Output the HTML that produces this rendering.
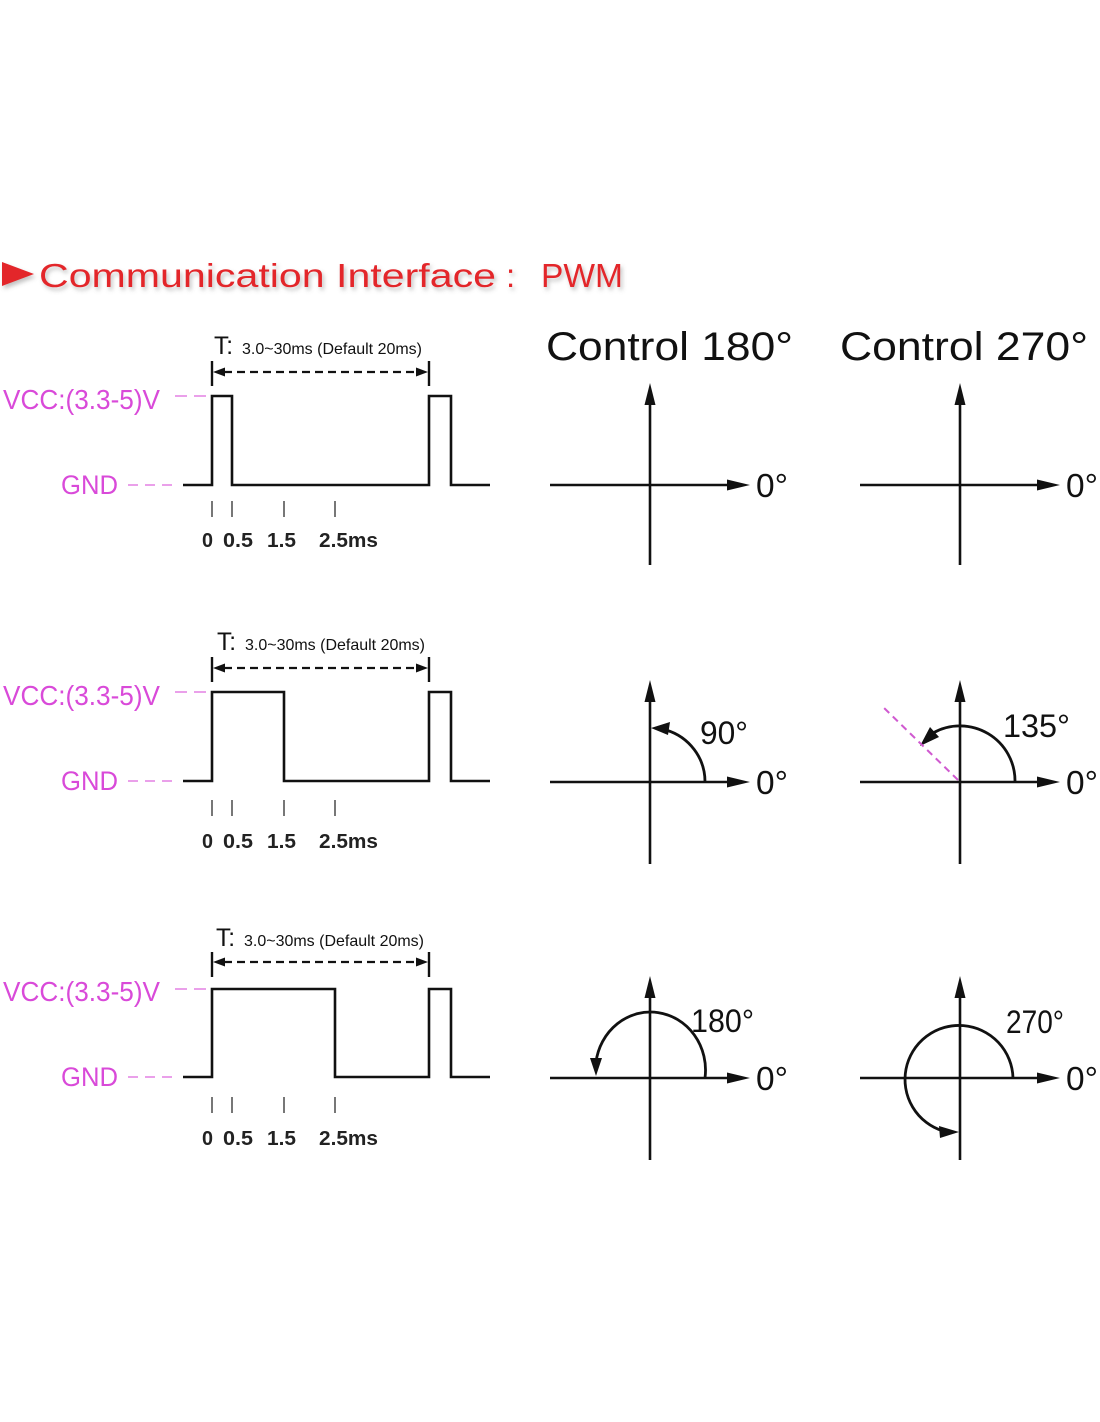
<!DOCTYPE html>
<html>
<head>
<meta charset="utf-8">
<style>
html,body{margin:0;padding:0;background:#fff;}
svg{display:block;}
text{font-family:"Liberation Sans","Noto Sans CJK SC",sans-serif;}
</style>
</head>
<body>
<svg width="1100" height="1422" viewBox="0 0 1100 1422" xmlns="http://www.w3.org/2000/svg">
<defs>
<filter id="sh" x="-5%" y="-30%" width="110%" height="170%">
<feDropShadow dx="2" dy="3" stdDeviation="2" flood-color="#777" flood-opacity="0.45"/>
</filter>
</defs>
<rect width="1100" height="1422" fill="#fff"/>

<!-- Title -->
<g filter="url(#sh)" fill="#e3262b">
<polygon points="2,262 34,274 2,286"/>
<text x="39" y="287" font-size="33" textLength="457" lengthAdjust="spacingAndGlyphs">Communication Interface</text>
<text x="506" y="287" font-size="33">:</text>
<text x="541" y="287" font-size="33" textLength="82" lengthAdjust="spacingAndGlyphs">PWM</text>
</g>

<!-- Headings -->
<text x="546" y="360" font-size="40" fill="#111" textLength="247" lengthAdjust="spacingAndGlyphs">Control 180°</text>
<text x="840" y="360" font-size="40" fill="#111" textLength="248" lengthAdjust="spacingAndGlyphs">Control 270°</text>

<!-- Waveform rows -->
<g>
  <text x="3" y="409" font-size="28" fill="#d94ad9" textLength="157" lengthAdjust="spacingAndGlyphs">VCC:(3.3-5)V</text>
  <line x1="175" y1="396" x2="207" y2="396" stroke="#eaa0ea" stroke-width="2" stroke-dasharray="12,7"/>
  <text x="61" y="494" font-size="27" fill="#d94ad9" textLength="57" lengthAdjust="spacingAndGlyphs">GND</text>
  <line x1="128" y1="485" x2="174" y2="485" stroke="#eaa0ea" stroke-width="2" stroke-dasharray="10,7"/>
  <polyline points="183,485 212,485 212,396 232,396 232,485 429,485 429,396 451,396 451,485 490,485" fill="none" stroke="#111" stroke-width="2.6"/>
  <text x="214" y="354" font-size="25" fill="#111" textLength="19" lengthAdjust="spacingAndGlyphs">T:</text>
  <text x="242" y="354" font-size="16" fill="#111" textLength="180" lengthAdjust="spacingAndGlyphs">3.0~30ms (Default 20ms)</text>
  <line x1="212" y1="361" x2="212" y2="386" stroke="#111" stroke-width="2.4"/>
  <line x1="429" y1="361" x2="429" y2="386" stroke="#111" stroke-width="2.4"/>
  <line x1="224" y1="372" x2="417" y2="372" stroke="#111" stroke-width="2.2" stroke-dasharray="8,5"/>
  <polygon points="213,372 225,367.5 225,376.5" fill="#111"/>
  <polygon points="428,372 416,367.5 416,376.5" fill="#111"/>
  <g stroke="#777" stroke-width="2">
    <line x1="212" y1="501" x2="212" y2="517"/>
    <line x1="232" y1="501" x2="232" y2="517"/>
    <line x1="284" y1="501" x2="284" y2="517"/>
    <line x1="335" y1="501" x2="335" y2="517"/>
  </g>
  <g font-size="20" font-weight="bold" fill="#222">
    <text x="202" y="547" textLength="11" lengthAdjust="spacingAndGlyphs">0</text>
    <text x="223" y="547" textLength="30" lengthAdjust="spacingAndGlyphs">0.5</text>
    <text x="267" y="547" textLength="29" lengthAdjust="spacingAndGlyphs">1.5</text>
    <text x="319" y="547" textLength="59" lengthAdjust="spacingAndGlyphs">2.5ms</text>
  </g>
</g>

<g transform="translate(0,296)">
  <text x="3" y="409" font-size="28" fill="#d94ad9" textLength="157" lengthAdjust="spacingAndGlyphs">VCC:(3.3-5)V</text>
  <line x1="175" y1="396" x2="207" y2="396" stroke="#eaa0ea" stroke-width="2" stroke-dasharray="12,7"/>
  <text x="61" y="494" font-size="27" fill="#d94ad9" textLength="57" lengthAdjust="spacingAndGlyphs">GND</text>
  <line x1="128" y1="485" x2="174" y2="485" stroke="#eaa0ea" stroke-width="2" stroke-dasharray="10,7"/>
  <polyline points="183,485 212,485 212,396 284,396 284,485 429,485 429,396 451,396 451,485 490,485" fill="none" stroke="#111" stroke-width="2.6"/>
  <text x="217" y="354" font-size="25" fill="#111" textLength="19" lengthAdjust="spacingAndGlyphs">T:</text>
  <text x="245" y="354" font-size="16" fill="#111" textLength="180" lengthAdjust="spacingAndGlyphs">3.0~30ms (Default 20ms)</text>
  <line x1="212" y1="361" x2="212" y2="386" stroke="#111" stroke-width="2.4"/>
  <line x1="429" y1="361" x2="429" y2="386" stroke="#111" stroke-width="2.4"/>
  <line x1="224" y1="372" x2="417" y2="372" stroke="#111" stroke-width="2.2" stroke-dasharray="8,5"/>
  <polygon points="213,372 225,367.5 225,376.5" fill="#111"/>
  <polygon points="428,372 416,367.5 416,376.5" fill="#111"/>
  <g stroke="#777" stroke-width="2">
    <line x1="212" y1="504" x2="212" y2="520"/>
    <line x1="232" y1="504" x2="232" y2="520"/>
    <line x1="284" y1="504" x2="284" y2="520"/>
    <line x1="335" y1="504" x2="335" y2="520"/>
  </g>
  <g font-size="20" font-weight="bold" fill="#222">
    <text x="202" y="552" textLength="11" lengthAdjust="spacingAndGlyphs">0</text>
    <text x="223" y="552" textLength="30" lengthAdjust="spacingAndGlyphs">0.5</text>
    <text x="267" y="552" textLength="29" lengthAdjust="spacingAndGlyphs">1.5</text>
    <text x="319" y="552" textLength="59" lengthAdjust="spacingAndGlyphs">2.5ms</text>
  </g>
</g>

<g transform="translate(0,592)">
  <text x="3" y="409" font-size="28" fill="#d94ad9" textLength="157" lengthAdjust="spacingAndGlyphs">VCC:(3.3-5)V</text>
  <line x1="175" y1="397" x2="207" y2="397" stroke="#eaa0ea" stroke-width="2" stroke-dasharray="12,7"/>
  <text x="61" y="494" font-size="27" fill="#d94ad9" textLength="57" lengthAdjust="spacingAndGlyphs">GND</text>
  <line x1="128" y1="485" x2="174" y2="485" stroke="#eaa0ea" stroke-width="2" stroke-dasharray="10,7"/>
  <polyline points="183,485 212,485 212,397 335,397 335,485 429,485 429,397 451,397 451,485 490,485" fill="none" stroke="#111" stroke-width="2.6"/>
  <text x="216" y="354" font-size="25" fill="#111" textLength="19" lengthAdjust="spacingAndGlyphs">T:</text>
  <text x="244" y="354" font-size="16" fill="#111" textLength="180" lengthAdjust="spacingAndGlyphs">3.0~30ms (Default 20ms)</text>
  <line x1="212" y1="360" x2="212" y2="385" stroke="#111" stroke-width="2.4"/>
  <line x1="429" y1="360" x2="429" y2="385" stroke="#111" stroke-width="2.4"/>
  <line x1="224" y1="370" x2="417" y2="370" stroke="#111" stroke-width="2.2" stroke-dasharray="8,5"/>
  <polygon points="213,370 225,365.5 225,374.5" fill="#111"/>
  <polygon points="428,370 416,365.5 416,374.5" fill="#111"/>
  <g stroke="#777" stroke-width="2">
    <line x1="212" y1="505" x2="212" y2="521"/>
    <line x1="232" y1="505" x2="232" y2="521"/>
    <line x1="284" y1="505" x2="284" y2="521"/>
    <line x1="335" y1="505" x2="335" y2="521"/>
  </g>
  <g font-size="20" font-weight="bold" fill="#222">
    <text x="202" y="553" textLength="11" lengthAdjust="spacingAndGlyphs">0</text>
    <text x="223" y="553" textLength="30" lengthAdjust="spacingAndGlyphs">0.5</text>
    <text x="267" y="553" textLength="29" lengthAdjust="spacingAndGlyphs">1.5</text>
    <text x="319" y="553" textLength="59" lengthAdjust="spacingAndGlyphs">2.5ms</text>
  </g>
</g>

<!-- Axes -->
<g stroke="#111" stroke-width="2.6" fill="none">
  <line x1="550" y1="485" x2="730" y2="485"/>
  <line x1="650" y1="402" x2="650" y2="565"/>
  <line x1="860" y1="485" x2="1040" y2="485"/>
  <line x1="960" y1="402" x2="960" y2="565"/>
  <line x1="550" y1="782" x2="730" y2="782"/>
  <line x1="650" y1="699" x2="650" y2="864"/>
  <line x1="860" y1="782" x2="1040" y2="782"/>
  <line x1="960" y1="699" x2="960" y2="864"/>
  <line x1="550" y1="1078" x2="730" y2="1078"/>
  <line x1="650" y1="995" x2="650" y2="1160"/>
  <line x1="860" y1="1078" x2="1040" y2="1078"/>
  <line x1="960" y1="995" x2="960" y2="1160"/>
</g>
<g fill="#111">
  <polygon points="750,485 727,479.5 727,490.5"/>
  <polygon points="650,383 644.5,405 655.5,405"/>
  <polygon points="1060,485 1037,479.5 1037,490.5"/>
  <polygon points="960,383 954.5,405 965.5,405"/>

  <polygon points="750,782 727,776.5 727,787.5"/>
  <polygon points="650,680 644.5,702 655.5,702"/>
  <polygon points="1060,782 1037,776.5 1037,787.5"/>
  <polygon points="960,680 954.5,702 965.5,702"/>

  <polygon points="750,1078 727,1072.5 727,1083.5"/>
  <polygon points="650,976 644.5,998 655.5,998"/>
  <polygon points="1060,1078 1037,1072.5 1037,1083.5"/>
  <polygon points="960,976 954.5,998 965.5,998"/>
</g>

<!-- 0° labels -->
<g font-size="33" fill="#111">
  <text x="756" y="497" textLength="32" lengthAdjust="spacingAndGlyphs">0°</text>
  <text x="1066" y="497" textLength="32" lengthAdjust="spacingAndGlyphs">0°</text>
  <text x="756" y="794" textLength="32" lengthAdjust="spacingAndGlyphs">0°</text>
  <text x="1066" y="794" textLength="32" lengthAdjust="spacingAndGlyphs">0°</text>
  <text x="756" y="1090" textLength="32" lengthAdjust="spacingAndGlyphs">0°</text>
  <text x="1066" y="1090" textLength="32" lengthAdjust="spacingAndGlyphs">0°</text>
</g>

<!-- Arcs -->
<g stroke="#111" stroke-width="2.8" fill="none">
  <path d="M 705 782 A 55 54 0 0 0 666 730"/>
  <path d="M 1015 782 A 55 55 0 0 0 933 733"/>
  <path d="M 705 1078 A 55 58 0 0 0 596 1062"/>
  <path d="M 1013 1078 A 54 54 0 1 0 943 1131"/>
</g>
<g fill="#111">
  <polygon points="651,728 670,722 668,735"/>
  <polygon points="920,746 930,727 939,737"/>
  <polygon points="596,1076 590,1058 602,1058"/>
  <polygon points="959,1132 939,1126 940,1138"/>
</g>
<line x1="958" y1="780" x2="882" y2="706" stroke="#d05ad0" stroke-width="2" stroke-dasharray="7,5"/>

<g font-size="32" fill="#111">
  <text x="700" y="744" textLength="48" lengthAdjust="spacingAndGlyphs">90°</text>
  <text x="1003" y="737" textLength="67" lengthAdjust="spacingAndGlyphs">135°</text>
  <text x="691" y="1032" textLength="63" lengthAdjust="spacingAndGlyphs">180°</text>
  <text x="1006" y="1033" textLength="58" lengthAdjust="spacingAndGlyphs">270°</text>
</g>
</svg>
</body>
</html>
